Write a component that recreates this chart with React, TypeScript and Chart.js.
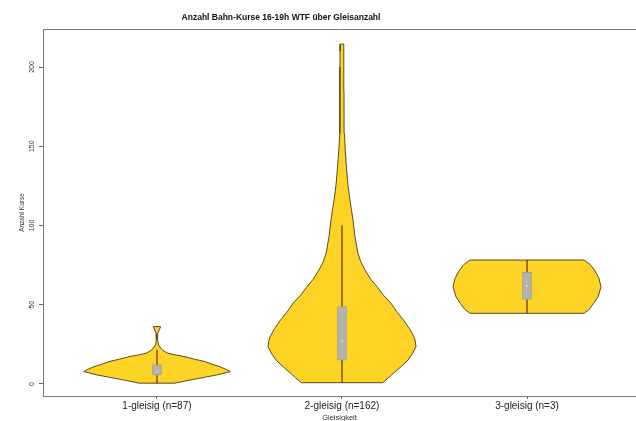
import React, { useEffect, useRef } from 'react';
import { Chart, registerables } from 'chart.js';

Chart.register(...registerables);

const chartTitle = 'Anzahl Bahn-Kurse 16-19h WTF über Gleisanzahl';
const xAxisTitle = 'Gleisigkeit';
const yAxisTitle = 'Anzahl Kurse';
const categories = ['1-gleisig (n=87)', '2-gleisig (n=162)', '3-gleisig (n=3)'];
const categoryPositions = [1, 2, 3];
const yTickValues = [0, 50, 100, 150, 200];

// Violin 1: value levels and relative density (0..1)
const levels1 = [0.5, 2.5, 4.2, 5.7, 7.8, 9.5, 10.9, 12.5, 14.1, 15.6, 17.2, 18.5, 19.5, 21.5, 24.6, 27.8, 30, 32, 34, 36.2];
const density1 = [0.24, 0.45, 0.64, 0.81, 0.99, 0.92, 0.85, 0.74, 0.65, 0.51, 0.38, 0.23, 0.14, 0.07, 0.02, 0.008, 0.008, 0.011, 0.03, 0.05];

// Violin 2
const levels2 = [0.8, 4, 7, 11, 15, 19, 23.5, 27, 30, 35, 40.4, 45, 51, 56, 61, 66, 72, 77, 82.5, 93, 103, 110, 116, 126, 137, 147, 158, 170, 185, 200, 210, 214.5];
const density2 = [0.55, 0.63, 0.7, 0.8, 0.89, 0.95, 1.0, 0.99, 0.97, 0.91, 0.83, 0.75, 0.66, 0.56, 0.48, 0.39, 0.31, 0.255, 0.215, 0.175, 0.15, 0.128, 0.107, 0.08, 0.06, 0.044, 0.034, 0.028, 0.027, 0.027, 0.026, 0.02];

// Violin 3
const levels3 = [44.6, 47, 50.9, 55, 61.4, 67, 72, 75.5, 78.2];
const density3 = [0.77, 0.84, 0.9, 0.96, 1.0, 0.97, 0.91, 0.85, 0.77];

const boxQ1 = [5.7, 15, 53.4];
const boxQ3 = [12, 48.8, 70.5];
const whiskerLow = [0.5, 0.8, 44.6];
const whiskerHigh = [21.5, 100, 78.2];
const medians = [8, 27, 62];

const FONT = '"Liberation Sans", Arial, Helvetica, sans-serif';
const VIOLIN_FILL = '#FDD325';
const VIOLIN_BORDER = '#5a4a22';
const MAX_HALF_WIDTH = 0.4;

function violinOutline(center: number, levels: number[], density: number[]) {
  const right = levels.map((y, i) => ({ x: center + density[i] * MAX_HALF_WIDTH, y }));
  const left = levels.map((y, i) => ({ x: center - density[i] * MAX_HALF_WIDTH, y })).reverse();
  const pts = [...right, ...left];
  pts.push({ ...pts[0] });
  return pts;
}

const framePlugin = {
  id: 'frameAndTitle',
  afterDraw(chart: any) {
    const { ctx, chartArea } = chart;
    ctx.save();
    ctx.strokeStyle = '#777';
    ctx.lineWidth = 1;
    ctx.beginPath();
    ctx.moveTo(chartArea.left, chartArea.top + 0.5);
    ctx.lineTo(chartArea.right, chartArea.top + 0.5);
    ctx.stroke();
    ctx.font = 'bold 8.5px ' + FONT;
    ctx.fillStyle = '#111';
    ctx.textAlign = 'center';
    ctx.textBaseline = 'middle';
    ctx.fillText(chartTitle, 281, 18);
    ctx.restore();
  },
};

export default function App() {
  const canvasRef = useRef<HTMLCanvasElement | null>(null);

  useEffect(() => {
    if (!canvasRef.current) return;
    const violins = [
      [levels1, density1],
      [levels2, density2],
      [levels3, density3],
    ].map(([lv, dn], i) => ({
      type: 'line' as const,
      data: violinOutline(categoryPositions[i], lv as number[], dn as number[]),
      borderColor: VIOLIN_BORDER,
      borderWidth: 1,
      backgroundColor: VIOLIN_FILL,
      fill: 'shape',
      pointRadius: 0,
      pointHoverRadius: 0,
      tension: 0,
      order: 3,
    }));
    const whiskers = categoryPositions.map((c, i) => ({
      type: 'line' as const,
      data: [
        { x: c, y: whiskerLow[i] },
        { x: c, y: whiskerHigh[i] },
      ],
      borderColor: '#3e160a',
      borderWidth: 1,
      pointRadius: 0,
      pointHoverRadius: 0,
      fill: false,
      order: 2,
    }));
    const boxes = {
      type: 'bar' as const,
      data: categoryPositions.map((c, i) => ({ x: c, y: [boxQ1[i], boxQ3[i]] })),
      backgroundColor: '#b3b3b3',
      borderColor: '#9a9a9a',
      borderWidth: 1,
      borderSkipped: false,
      barThickness: 9,
      order: 1,
    };
    const medianPts = {
      type: 'scatter' as const,
      data: categoryPositions.map((c, i) => ({ x: c, y: medians[i] })),
      pointRadius: 1,
      pointHoverRadius: 1,
      pointBackgroundColor: '#d4d4d4',
      pointBorderWidth: 0,
      showLine: false,
      order: 0,
    };

    const chart = new Chart(canvasRef.current, {
      type: 'line',
      data: { datasets: [...violins, ...whiskers, boxes, medianPts] as any },
      options: {
        animation: false,
        responsive: false,
        devicePixelRatio: 1,
        events: [],
        layout: { autoPadding: false, padding: { top: 29, left: 0, right: 0, bottom: 0 } },
        plugins: {
          legend: { display: false },
          tooltip: { enabled: false },
          title: { display: false },
        },
        scales: {
          x: {
            type: 'linear',
            min: 0.384,
            max: 3.589,
            offset: false,
            afterBuildTicks: (s: any) => {
              s.ticks = categoryPositions.map((v) => ({ value: v }));
            },
            afterFit: (s: any) => {
              s.height = 25;
            },
            ticks: {
              callback: (_v: any, idx: number) => categories[idx],
              font: { size: 10, family: FONT },
              color: '#222',
              padding: 1,
              maxRotation: 0,
              minRotation: 0,
              autoSkip: false,
            },
            grid: { drawOnChartArea: false, drawTicks: true, tickLength: 3, color: '#666', offset: false },
            border: { display: true, color: '#777' },
            title: {
              display: true,
              text: xAxisTitle,
              font: { size: 7.5, family: FONT, lineHeight: 0.8 },
              color: '#333',
              padding: 0,
            },
          },
          y: {
            type: 'linear',
            min: -7.6,
            max: 224,
            afterBuildTicks: (s: any) => {
              s.ticks = yTickValues.map((v) => ({ value: v }));
            },
            afterFit: (s: any) => {
              s.width = 43;
            },
            ticks: {
              minRotation: 90,
              maxRotation: 90,
              crossAlign: 'center',
              padding: 1,
              font: { size: 7, family: FONT },
              color: '#333',
            },
            grid: { drawOnChartArea: false, drawTicks: true, tickLength: 4, color: '#666' },
            border: { display: true, color: '#777' },
            title: {
              display: true,
              text: yAxisTitle,
              font: { size: 6.5, family: FONT, lineHeight: 1 },
              color: '#333',
              padding: { top: 19, bottom: 0 },
            },
          },
        },
      } as any,
      plugins: [framePlugin],
    });
    return () => chart.destroy();
  }, []);

  return (
    <div style={{ position: 'absolute', left: 0, top: 0, width: 636, height: 421, background: '#fff' }}>
      <canvas ref={canvasRef} width={636} height={421} style={{ display: 'block' }} />
    </div>
  );
}
